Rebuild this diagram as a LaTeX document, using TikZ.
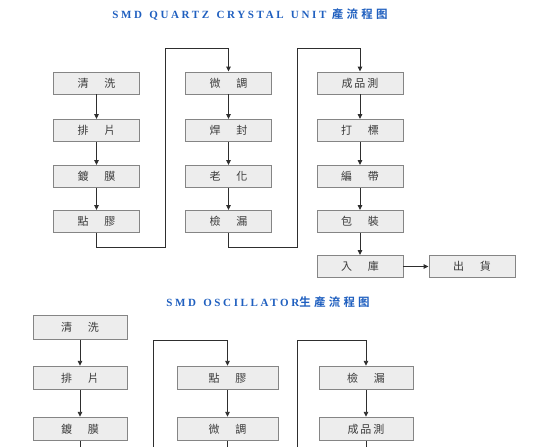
\documentclass[tikz,border=0pt]{standalone}
\usepackage{fontspec}
\setmainfont{Liberation Serif}
\newfontfamily\cjk{Noto Sans CJK TC}
\newfontfamily\ttlfont[LetterSpace=24,WordSpace=1.35]{Liberation Serif Bold}
\newfontfamily\ttlcjk[LetterSpace=28]{Noto Sans CJK TC Bold}
\usetikzlibrary{arrows.meta}
\definecolor{boxfill}{HTML}{EDEDED}
\definecolor{boxline}{HTML}{858585}
\definecolor{txt}{HTML}{3A3A3A}
\definecolor{linec}{HTML}{2E2E2E}
\definecolor{ttl}{HTML}{1F5FBF}
\newcommand{\gapch}[2]{#1\hspace{1.45em}#2}
\begin{document}
\begin{tikzpicture}[x=1pt,y=-1pt,
  procbox/.style={draw=boxline,fill=boxfill,line width=0.9pt,minimum width=86pt,minimum height=22pt,inner sep=0pt,text=txt,font=\cjk\fontsize{11}{11}\selectfont},
  procboxb/.style={procbox,minimum width=94pt,minimum height=23.5pt},
  flow/.style={draw=linec,line width=0.9pt,-{Triangle[length=5pt,width=4.5pt]}},
  flowline/.style={draw=linec,line width=0.9pt},
  ttlnode/.style={text=ttl,inner sep=0pt,anchor=center}]
\useasboundingbox (0,0) rectangle (549,447);
% Title 1
\node[ttlnode] (t1) at (250,14.5) {\ttlfont\fontsize{11}{11}\selectfont SMD QUARTZ CRYSTAL UNIT\hspace{0.5em}\ttlcjk\fontsize{11.5}{11}\selectfont 產流程图};
% Top column 1
\node[procbox] (a1) at (96.5,83) {\gapch{清}{洗}};
\node[procbox] (a2) at (96.5,130.5) {\gapch{排}{片}};
\node[procbox] (a3) at (96.5,176.5) {\gapch{鍍}{膜}};
\node[procbox] (a4) at (96.5,221.5) {\gapch{點}{膠}};
% Top column 2
\node[procbox] (b1) at (228.5,83) {\gapch{微}{調}};
\node[procbox] (b2) at (228.5,130.5) {\gapch{焊}{封}};
\node[procbox] (b3) at (228.5,176.5) {\gapch{老}{化}};
\node[procbox] (b4) at (228.5,221.5) {\gapch{檢}{漏}};
% Top column 3
\node[procbox] (c1) at (360,83) {成\,品\,測};
\node[procbox] (c2) at (360,130.5) {\gapch{打}{標}};
\node[procbox] (c3) at (360,176.5) {\gapch{編}{帶}};
\node[procbox] (c4) at (360,221.5) {\gapch{包}{裝}};
\node[procbox] (c5) at (360,266.5) {\gapch{入}{庫}};
\node[procbox] (c6) at (472,266.5) {\gapch{出}{貨}};
\draw[flow] (a1) -- (a2);
\draw[flow] (a2) -- (a3);
\draw[flow] (a3) -- (a4);
\draw[flow] (b1) -- (b2);
\draw[flow] (b2) -- (b3);
\draw[flow] (b3) -- (b4);
\draw[flow] (c1) -- (c2);
\draw[flow] (c2) -- (c3);
\draw[flow] (c3) -- (c4);
\draw[flow] (c4) -- (c5);
\draw[flow] (c5) -- (c6);
\draw[flow] (a4.south) -- (a4.south |- 0,247.5) -- (165,247.5) -- (165,48) -- (b1.north |- 0,48) -- (b1.north);
\draw[flow] (b4.south) -- (b4.south |- 0,247.5) -- (297,247.5) -- (297,48) -- (c1.north |- 0,48) -- (c1.north);
% Title 2
\node[ttlnode] (t2) at (268,302) {\ttlfont\fontsize{11}{11}\selectfont SMD OSCILLATOR\ttlcjk\fontsize{11.5}{11}\selectfont 生產流程图};
% Bottom section
\node[procboxb] (d1) at (80,327.5) {\gapch{清}{洗}};
\node[procboxb] (d2) at (80,378) {\gapch{排}{片}};
\node[procboxb] (d3) at (80,429) {\gapch{鍍}{膜}};
\node[procboxb,minimum width=101pt] (e1) at (227.5,378) {\gapch{點}{膠}};
\node[procboxb,minimum width=101pt] (e2) at (227.5,429) {\gapch{微}{調}};
\node[procboxb] (f1) at (366,378) {\gapch{檢}{漏}};
\node[procboxb] (f2) at (366,429) {成\,品\,測};
\coordinate (dend) at (80,447);
\coordinate (eend) at (227.5,447);
\coordinate (fend) at (366,447);
\coordinate (ein) at (153,447);
\coordinate (fin) at (297,447);
\draw[flow] (d1) -- (d2);
\draw[flow] (d2) -- (d3);
\draw[flow] (e1) -- (e2);
\draw[flow] (f1) -- (f2);
\draw[flowline] (d3.south) -- (dend);
\draw[flowline] (e2.south) -- (eend);
\draw[flowline] (f2.south) -- (fend);
\draw[flow] (ein) -- (153,340) -- (e1.north |- 0,340) -- (e1.north);
\draw[flow] (fin) -- (297,340) -- (f1.north |- 0,340) -- (f1.north);
\end{tikzpicture}
\end{document}
